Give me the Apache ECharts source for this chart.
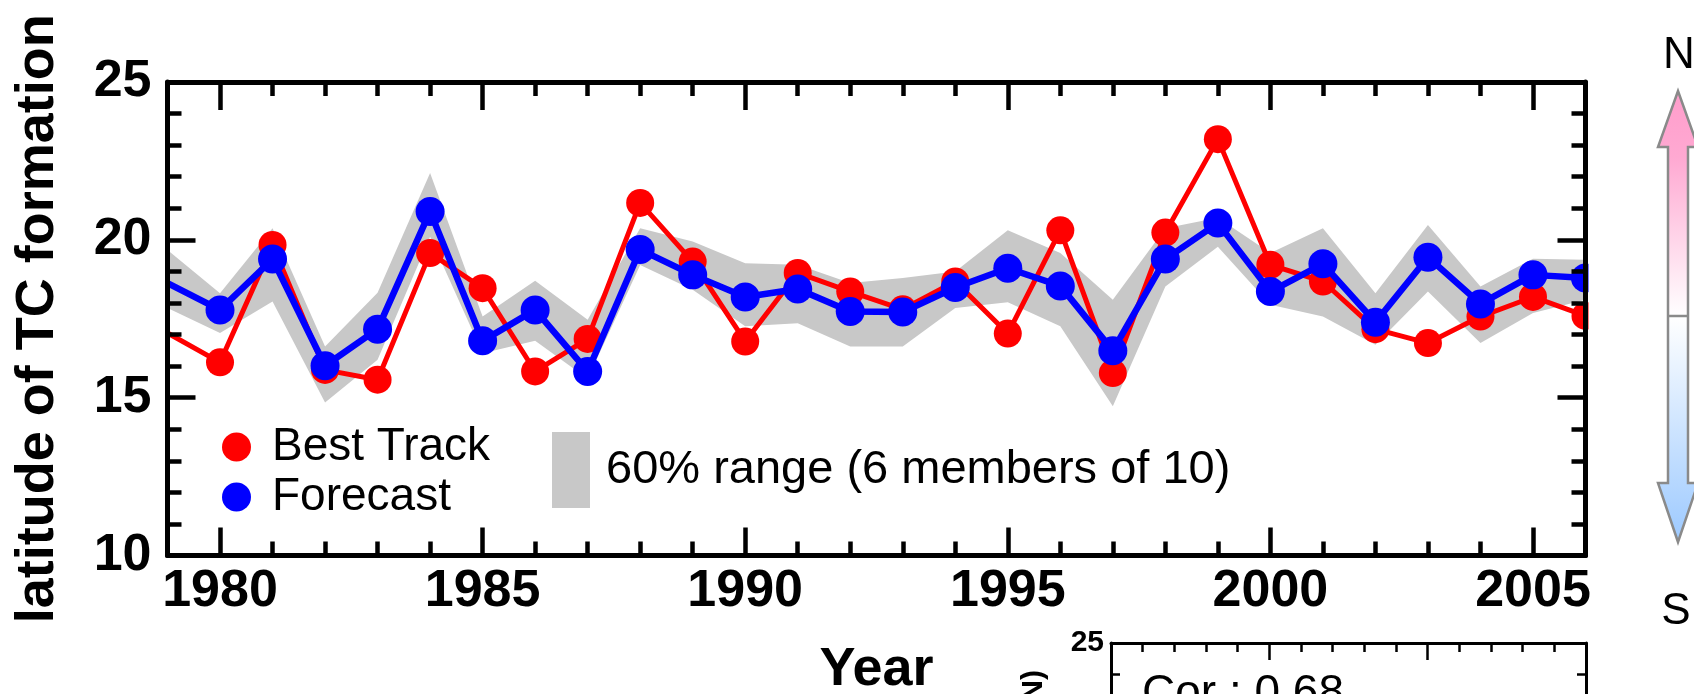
<!DOCTYPE html>
<html>
<head>
<meta charset="utf-8">
<script src="https://cdn.jsdelivr.net/npm/echarts@6/dist/echarts.min.js"></script>
<style>
html,body{margin:0;padding:0;background:#fff;}
#c{width:1694px;height:694px;}
</style>
</head>
<body>
<div id="c"></div>
<script>
// ---------- data ----------
const years = [1979,1980,1981,1982,1983,1984,1985,1986,1987,1988,1989,1990,1991,1992,1993,1994,1995,1996,1997,1998,1999,2000,2001,2002,2003,2004,2005,2006];
const bestTrack = [17.05,16.12,19.84,15.88,15.57,19.58,18.47,15.83,16.86,21.17,19.31,16.78,18.95,18.36,17.80,18.68,17.03,20.30,15.78,20.23,23.19,19.21,18.68,17.17,16.73,17.57,18.19,17.59];
const forecast  = [18.63,17.78,19.39,16.01,17.17,20.90,16.80,17.78,15.83,19.69,18.89,18.19,18.44,17.73,17.71,18.49,19.10,18.54,16.49,19.39,20.53,18.36,19.24,17.39,19.45,17.97,18.89,18.79];
const rangeUpper = [19.68,18.31,20.37,16.62,18.32,22.12,17.57,18.70,17.47,20.37,19.95,19.26,19.21,18.63,18.79,19.00,20.30,19.58,18.10,20.37,20.70,19.58,20.37,18.31,20.47,18.52,19.40,19.37];
const rangeLower = [17.84,17.05,18.05,14.85,16.20,20.10,16.41,16.80,15.60,19.20,18.42,17.26,17.36,16.62,16.62,17.84,18.02,17.26,14.73,18.52,19.78,17.94,17.57,16.68,18.36,16.73,17.68,18.10];
const xMajorTicks = [1980,1985,1990,1995,2000,2005];
const xMinorTicks = years;
const yMajorTicks = [10,15,20,25];
const yMinorTicks = [10,11,12,13,14,15,16,17,18,19,20,21,22,23,24,25];
const subMajorTicks = [10,15,20,25];
const subMinorTicks = [10,11,12,13,14,15,16,17,18,19,20,21,22,23,24,25];
const subLabelTicks = [25];

const FONT = '"Liberation Sans", Arial, Helvetica, sans-serif';

// ---------- helpers ----------
function pts(vals, hideFirst) {
  return years.map((y, i) => (hideFirst && i === 0) ? {value: [y, vals[i]], symbol: 'none'} : [y, vals[i]]);
}
function axis(opts) {
  return {
    type: 'value', gridIndex: opts.grid, position: opts.pos, min: opts.min, max: opts.max,
    axisLine: {show: opts.line, onZero: false, lineStyle: {color: '#000', width: opts.lw}},
    axisTick: {show: true, inside: true, length: opts.len, customValues: opts.ticks, lineStyle: {color: '#000', width: opts.tw}},
    axisLabel: opts.label ? Object.assign({show: true, customValues: opts.labelTicks || opts.ticks, color: '#000', fontFamily: FONT, fontWeight: 'bold', formatter: v => String(v)}, opts.label) : {show: false},
    splitLine: {show: false},
    name: opts.name || '', nameLocation: 'middle', nameGap: opts.nameGap || 0, nameRotate: opts.nameRotate,
    nameTextStyle: {color: '#000', fontFamily: FONT, fontWeight: 'bold', fontSize: 54},
    z: 20
  };
}

const chart = echarts.init(document.getElementById('c'), null, {renderer: 'canvas'});

function renderBand(params, api) {
  if (params.dataIndex !== 0) return null;
  const poly = [];
  for (let j = 0; j < years.length; j++) poly.push(api.coord([years[j], rangeUpper[j]]));
  for (let j = years.length - 1; j >= 0; j--) poly.push(api.coord([years[j], rangeLower[j]]));
  return {type: 'polygon', shape: {points: poly}, style: {fill: '#c8c8c8', stroke: null}};
}

const option = {
  animation: false,
  backgroundColor: '#fff',
  grid: [
    {left: 167.5, top: 82, width: 1418, height: 473.5, outerBoundsMode: 'none', containLabel: false},
    {left: 1111, top: 643, width: 475, height: 475, outerBoundsMode: 'none', containLabel: false}
  ],
  xAxis: [
    axis({grid: 0, pos: 'bottom', min: 1979, max: 2006, line: true, lw: 5, len: 28, tw: 4.5, ticks: xMajorTicks, label: {fontSize: 52, margin: 10}, name: 'Year', nameGap: 88}),
    axis({grid: 0, pos: 'bottom', min: 1979, max: 2006, line: false, lw: 5, len: 14, tw: 4.5, ticks: xMinorTicks}),
    axis({grid: 0, pos: 'top', min: 1979, max: 2006, line: true, lw: 5, len: 28, tw: 4.5, ticks: xMajorTicks}),
    axis({grid: 0, pos: 'top', min: 1979, max: 2006, line: false, lw: 5, len: 14, tw: 4.5, ticks: xMinorTicks}),
    axis({grid: 1, pos: 'top', min: 10, max: 25, line: true, lw: 3, len: 17, tw: 2.5, ticks: subMajorTicks}),
    axis({grid: 1, pos: 'top', min: 10, max: 25, line: false, lw: 3, len: 9, tw: 2.5, ticks: subMinorTicks})
  ],
  yAxis: [
    axis({grid: 0, pos: 'left', min: 10, max: 25, line: true, lw: 5, len: 28, tw: 4.5, ticks: yMajorTicks, label: {fontSize: 52, margin: 16}, name: 'latitude of TC formation', nameGap: 102, nameRotate: 90}),
    axis({grid: 0, pos: 'left', min: 10, max: 25, line: false, lw: 5, len: 14, tw: 4.5, ticks: yMinorTicks}),
    axis({grid: 0, pos: 'right', min: 10, max: 25, line: true, lw: 5, len: 28, tw: 4.5, ticks: yMajorTicks}),
    axis({grid: 0, pos: 'right', min: 10, max: 25, line: false, lw: 5, len: 14, tw: 4.5, ticks: yMinorTicks}),
    axis({grid: 1, pos: 'left', min: 10, max: 25, line: true, lw: 3, len: 17, tw: 2.5, ticks: subMajorTicks, labelTicks: subLabelTicks, label: {fontSize: 30, margin: 7}}),
    axis({grid: 1, pos: 'left', min: 10, max: 25, line: false, lw: 3, len: 9, tw: 2.5, ticks: subMinorTicks}),
    axis({grid: 1, pos: 'right', min: 10, max: 25, line: true, lw: 3, len: 17, tw: 2.5, ticks: subMajorTicks}),
    axis({grid: 1, pos: 'right', min: 10, max: 25, line: false, lw: 3, len: 9, tw: 2.5, ticks: subMinorTicks})
  ],
  legend: [
    {
      data: ['Best Track', 'Forecast'], orient: 'vertical', left: 217, top: 419,
      icon: 'circle', itemWidth: 29, itemHeight: 29, itemGap: 4, selectedMode: false,
      textStyle: {fontSize: 46, fontFamily: FONT, color: '#000', padding: [0, 0, 0, 16]}
    },
    {
      data: ['60% range (6 members of 10)'], left: 547, top: 427,
      icon: 'rect', itemWidth: 38, itemHeight: 76, selectedMode: false,
      itemStyle: {color: '#c8c8c8'},
      textStyle: {fontSize: 47, fontFamily: FONT, color: '#000', padding: [0, 0, 0, 11]}
    }
  ],
  series: [
    {
      name: '60% range (6 members of 10)', type: 'custom', xAxisIndex: 0, yAxisIndex: 0,
      data: years.map((y, i) => [y, rangeLower[i], rangeUpper[i]]),
      encode: {x: 0, y: [1, 2]},
      renderItem: renderBand, itemStyle: {color: '#c8c8c8'}, silent: true, z: 1
    },
    {
      name: 'Best Track', type: 'line', xAxisIndex: 0, yAxisIndex: 0,
      data: pts(bestTrack, true), color: '#ff0000',
      symbol: 'circle', symbolSize: 28, itemStyle: {color: '#ff0000'},
      lineStyle: {color: '#ff0000', width: 5}, z: 2
    },
    {
      name: 'Forecast', type: 'line', xAxisIndex: 0, yAxisIndex: 0,
      data: pts(forecast, true), color: '#0000ff',
      symbol: 'circle', symbolSize: 29, itemStyle: {color: '#0000ff'},
      lineStyle: {color: '#0000ff', width: 6.5}, z: 3
    }
  ],
  graphic: [
    // white margin outside the right frame so edge markers appear clipped by the plot box
    {type: 'rect', z: 15, shape: {x: 1588.5, y: 84, width: 50, height: 470}, style: {fill: '#fff'}},
    {
      type: 'polygon', z: 10,
      shape: {points: [[1678,91],[1698,147],[1688,147],[1688,483],[1698,483],[1678,542],[1658,483],[1668,483],[1668,147],[1658,147]]},
      style: {
        fill: new echarts.graphic.LinearGradient(0, 0, 0, 1, [
          {offset: 0, color: '#ff9dcb'}, {offset: 0.15, color: '#ffa9d2'},
          {offset: 0.5, color: '#ffffff'}, {offset: 0.85, color: '#b9d9ff'}, {offset: 1, color: '#9cc9ff'}
        ]),
        stroke: '#8a8a8a', lineWidth: 2.5
      }
    },
    {type: 'line', z: 11, shape: {x1: 1668, y1: 316, x2: 1688, y2: 316}, style: {stroke: '#8a8a8a', lineWidth: 2.5}},
    {type: 'text', z: 11, x: 1679, y: 56, style: {text: 'N', fontSize: 44, fontFamily: FONT, fill: '#000', align: 'center', verticalAlign: 'middle'}},
    {type: 'text', z: 11, x: 1676, y: 612, style: {text: 'S', fontSize: 44, fontFamily: FONT, fill: '#000', align: 'center', verticalAlign: 'middle'}},
    {type: 'text', z: 11, x: 1142, y: 671, style: {text: 'Cor : 0.68', fontSize: 46, fontFamily: FONT, fill: '#000', align: 'left', verticalAlign: 'top'}},
    {type: 'text', z: 11, x: 1034, y: 670, rotation: Math.PI / 2, style: {text: 'Forecast (N)', fontSize: 30, fontFamily: FONT, fontWeight: 'bold', fill: '#000', align: 'right', verticalAlign: 'middle'}}
  ]
};
chart.setOption(option);
</script>
</body>
</html>
